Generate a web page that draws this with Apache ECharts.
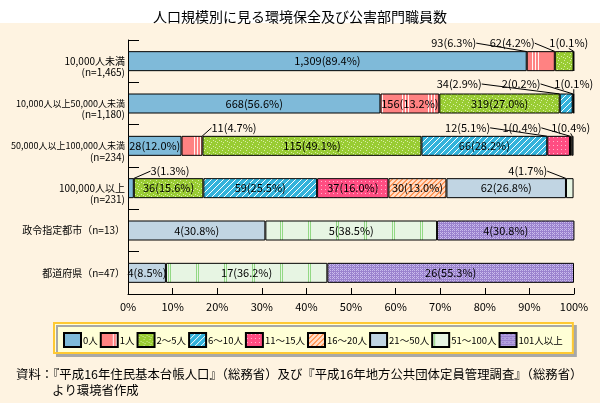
<!DOCTYPE html>
<html><head><meta charset="utf-8">
<script src="https://cdn.jsdelivr.net/npm/echarts@6/dist/echarts.min.js"></script>
<style>html,body{margin:0;padding:0;background:#fff}#c{width:600px;height:403px}</style>
</head><body><div id="c"></div>
<script>
// ---- data ----
const rows = ['10,000人未満\n(n=1,465)', '10,000人以上50,000人未満\n(n=1,180)', '50,000人以上100,000人未満\n(n=234)', '100,000人以上\n(n=231)', '政令指定都市（n=13）', '都道府県（n=47）'];
const groups = ['0人', '1人', '2～5人', '6～10人', '11～15人', '16～20人', '21～50人', '51～100人', '101人以上'];
const n0 = [1309, 668, 28, 3, 0, 0];
const n1 = [93, 156, 11, 0, 0, 0];
const n2 = [62, 319, 115, 36, 0, 0];
const n3 = [1, 34, 66, 59, 0, 0];
const n4 = [0, 2, 12, 37, 0, 0];
const n5 = [0, 1, 1, 30, 0, 0];
const n6 = [0, 0, 1, 62, 4, 4];
const n7 = [0, 0, 0, 4, 5, 17];
const n8 = [0, 0, 0, 0, 4, 26];
const p0 = [89.4, 56.6, 12.0, 1.3, 0, 0];
const p1 = [6.3, 13.2, 4.7, 0, 0, 0];
const p2 = [4.2, 27.0, 49.1, 15.6, 0, 0];
const p3 = [0.1, 2.9, 28.2, 25.5, 0, 0];
const p4 = [0, 0.2, 5.1, 16.0, 0, 0];
const p5 = [0, 0.1, 0.4, 13.0, 0, 0];
const p6 = [0, 0, 0.4, 26.8, 30.8, 8.5];
const p7 = [0, 0, 0, 1.7, 38.5, 36.2];
const p8 = [0, 0, 0, 0, 30.8, 55.3];
const counts = [n0, n1, n2, n3, n4, n5, n6, n7, n8];
const pcts = [p0, p1, p2, p3, p4, p5, p6, p7, p8];
const footer1 = '資料：『平成16年住民基本台帳人口』（総務省）及び『平成16年地方公共団体定員管理調査』（総務省）';
const footer2 = 'より環境省作成';

// ---- styling ----
const FONT = "'Noto Sans CJK JP', sans-serif";
// label offsets for small segments: [dx from segment centre, height above bar top]
const OUTSIDE = {'1-0': [-87, 8], '2-0': [-52, 8], '3-0': [-5, 8],
  '3-1': [-107, 9.5], '4-1': [-52, 9.5], '5-1': [0, 9.5],
  '1-2': [42, 8], '4-2': [-91, 8], '5-2': [-49, 8], '6-2': [-2, 8],
  '0-3': [39, 7], '7-3': [-42, 7]};

function pattern(w, h, bg, fg, test) {
  const c = document.createElement('canvas'); c.width = w; c.height = h;
  const g = c.getContext('2d'); g.fillStyle = bg; g.fillRect(0, 0, w, h);
  if (fg) { g.fillStyle = fg; for (let x = 0; x < w; x++) for (let y = 0; y < h; y++) if (test(x, y)) g.fillRect(x, y, 1, 1); }
  return {image: c, repeat: 'repeat'};
}
const fills = [
  '#7FBAD9',
  pattern(26, 2, '#FF8282', 'rgba(255,255,255,0.9)', (x) => x === 12 || x === 15 || x === 18),
  pattern(6, 6, '#99CC33', '#D8EEA8', (x, y) => (x === 0 && y === 0) || (x === 3 && y === 2) || (x === 1 && y === 4) || (x === 5 && y === 3)),
  pattern(6, 6, '#33B3DB', '#FFFFFF', (x, y) => (x + y) % 6 === 0),
  pattern(4, 4, '#FF4D82', '#FFB5CC', (x, y) => x === 1 && y === 1),
  pattern(5, 5, '#FFDCC6', '#FF9A5C', (x, y) => (x + y) % 5 === 0 || (x + y) % 5 === 1),
  '#C1D5E3',
  pattern(28, 2, '#E7F5E3', '#92D884', (x) => x === 0 || x === 2),
  pattern(4, 4, '#9A82CE', '#C9BBEC', (x, y) => (y % 2 === 0 && x % 2 === 0) || (y === 1 && x === 1))
];

function labelLayout(p) {
  const spec = OUTSIDE[p.seriesIndex + '-' + p.dataIndex];
  if (!spec) return {};
  const r = p.rect, w = p.labelRect.width;
  const cx = r.x + r.width / 2, cy = r.y + r.height / 2;
  const lx = cx + spec[0], ly = r.y - spec[1];
  let pts;
  if (spec[0] < -10) { const sx = lx + w / 2 + 1; pts = [[sx, ly], [sx + 12, ly], [cx, cy]]; }
  else if (spec[0] > 10) { const sx = lx - w / 2 - 1; pts = [[sx, ly], [sx - 7, ly], [cx, cy]]; }
  else { const sx = lx - w / 2 + 6; pts = [[sx, ly + 5], [sx, ly + 5], [cx, cy + 4]]; }
  return {x: lx, y: ly, align: 'center', verticalAlign: 'middle', labelLinePoints: pts};
}

function catLabel(v) {
  const parts = v.split('\n');
  if (parts.length < 2) return v;
  const first = parts[0].length > 12 ? '{s|' + parts[0] + '}' : parts[0];
  return '\n' + first + '\n' + parts[1];
}

const series = groups.map((name, i) => ({
  name, type: 'bar', stack: 'all', barWidth: 20,
  itemStyle: {color: fills[i], borderColor: '#000', borderWidth: 1},
  label: {show: true, position: 'inside', color: '#000', fontSize: 11, fontFamily: FONT,
    formatter: (p) => counts[p.seriesIndex][p.dataIndex].toLocaleString('en-US') + '(' + Number(p.value).toFixed(1) + '%)'},
  labelLine: {show: false, lineStyle: {color: '#000', width: 1}},
  labelLayout,
  emphasis: {disabled: true},
  data: pcts[i].map((v, j) => v ? {value: v, labelLine: {show: !!OUTSIDE[i + '-' + j], lineStyle: {color: '#000', width: 1}}} : '-')
}));

const chart = echarts.init(document.getElementById('c'));
chart.setOption({
  backgroundColor: '#FEF3E1',
  animation: false,
  textStyle: {fontFamily: FONT},
  title: {text: '人口規模別に見る環境保全及び公害部門職員数', left: 'center', top: 5,
    textStyle: {fontSize: 14, fontWeight: 'normal', color: '#000', fontFamily: FONT}},
  graphic: [
    {type: 'rect', left: 0, top: 0, z: -10, shape: {width: 600, height: 23}, style: {fill: '#FFFFFF'}},
    {type: 'text', left: 16, top: 368, style: {text: footer1, fill: '#000', font: '12.4px ' + FONT}},
    {type: 'text', left: 52, top: 384, style: {text: footer2, fill: '#000', font: '12.4px ' + FONT}}
  ],
  legend: {
    data: groups, left: 54, top: 323, orient: 'horizontal', width: 540,
    itemWidth: 17, itemHeight: 14, itemGap: 2, icon: 'rect', selectedMode: false,
    padding: [9, 10, 5, 9],
    backgroundColor: '#FFFFD6', borderColor: '#FFC933', borderWidth: 2,
    shadowColor: '#A8A8A8', shadowBlur: 0, shadowOffsetX: 3, shadowOffsetY: 3,
    textStyle: {fontSize: 9.5, color: '#000', fontFamily: FONT, padding: [0, 0, 0, -3]}
  },
  grid: {left: 128, right: 26, top: 40, bottom: 109, containLabel: false, outerBoundsMode: 'none'},
  xAxis: {
    type: 'value', min: 0, max: 100, interval: 10,
    axisLine: {show: true, lineStyle: {color: '#000', width: 1}},
    axisTick: {show: true, inside: true, length: 6, lineStyle: {color: '#000'}},
    splitLine: {show: false},
    axisLabel: {formatter: '{value}%', color: '#000', fontSize: 11, margin: 7, fontFamily: FONT}
  },
  yAxis: {
    type: 'category', inverse: true, data: rows,
    axisLine: {show: true, lineStyle: {color: '#000', width: 1}},
    axisTick: {show: true, inside: true, length: 11, lineStyle: {color: '#000'}},
    axisLabel: {color: '#000', fontSize: 10, margin: 3, lineHeight: 11, align: 'right', fontFamily: FONT,
      formatter: catLabel,
      rich: {s: {fontSize: 9, lineHeight: 11, color: '#000', fontFamily: FONT}}}
  },
  series
});
</script></body></html>
